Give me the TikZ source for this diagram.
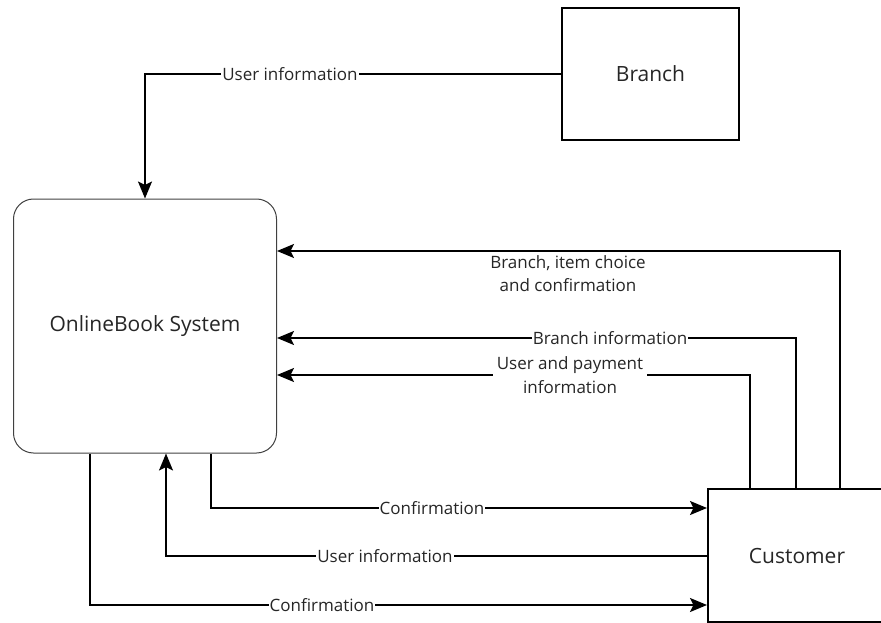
\documentclass[tikz,border=0pt]{standalone}
\usepackage{fontspec}
\setmainfont{Open Sans}
\usetikzlibrary{arrows.meta,calc}
\tikzset{
  flow/.style={line width=2pt, draw=black, -{Stealth[length=17pt,width=14pt,inset=3.5pt]}},
  lbl/.style={fill=white, inner xsep=1pt, inner ysep=2pt, text=black!85, font=\fontsize{17}{23.5}\selectfont, align=center},
  lblm/.style={lbl, inner xsep=4pt},
  ext/.style={draw=black, line width=2pt, minimum width=177pt, minimum height=132pt, inner sep=0pt, text=black!85, font=\fontsize{21}{25}\selectfont},
  proc/.style={draw=black!75, line width=1pt, rounded corners=20pt, minimum width=263pt, minimum height=254pt, inner sep=0pt, text=black!85, font=\fontsize{21}{25}\selectfont}
}
\begin{document}
\begin{tikzpicture}[x=1pt,y=-1pt]
\useasboundingbox (0,0) rectangle (881,623);
\node[ext] (branch) at (650.5,74) {Branch};
\node[proc] (obs) at (145,326) {OnlineBook System};
\node[ext, minimum width=178pt, minimum height=133pt] (cust) at (797,555.5) {Customer};

\draw[flow] (branch.west) -| (obs.north);
\draw[flow] ([xshift=133pt]cust.north west) |- ([yshift=75pt]obs.east);
\draw[flow] ([xshift=89pt]cust.north west) |- ([yshift=-12pt]obs.east);
\draw[flow] ([xshift=43pt]cust.north west) |- ([yshift=-49pt]obs.east);
\draw[flow] ([xshift=66pt]obs.south) |- ([yshift=47.5pt]cust.west);
\draw[flow] (cust.west) -| ([xshift=21pt]obs.south);
\draw[flow] ([xshift=-55pt]obs.south) |- ([yshift=-49.5pt]cust.west);

\node[lbl] (l1) at (290,74) {User information};
\node[lblm] (l2) at (568,273.5) {Branch, item choice\\and confirmation};
\node[lbl] (l3) at (610,338) {Branch information};
\node[lblm] (l4) at (570,375) {User and payment\\information};
\node[lbl] (l5) at (432,508) {Confirmation};
\node[lbl] (l6) at (385,556) {User information};
\node[lbl] (l7) at (322,605) {Confirmation};
\end{tikzpicture}
\end{document}
